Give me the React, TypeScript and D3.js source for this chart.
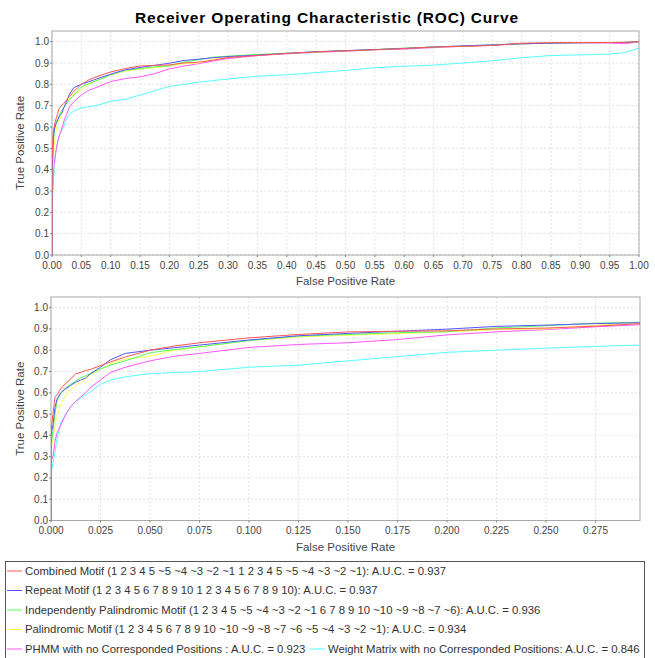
import React from "react";
import * as d3 from "d3";

// ---------- data ----------
const FPR = [0, 0, 0.001, 0.002, 0.003, 0.005, 0.0075, 0.01, 0.0125, 0.015, 0.0175, 0.02, 0.025, 0.03, 0.0375, 0.05, 0.0625, 0.075, 0.1, 0.125, 0.15, 0.175, 0.2, 0.225, 0.25, 0.275, 0.3, 0.35, 0.4, 0.45, 0.5, 0.55, 0.6, 0.65, 0.7, 0.75, 0.8, 0.85, 0.9, 0.95, 0.975, 1.0];

const COMBINED_TPR = [0, 0.42, 0.5, 0.58, 0.59, 0.62, 0.645, 0.665, 0.69, 0.695, 0.705, 0.71, 0.728, 0.745, 0.768, 0.8, 0.82, 0.835, 0.858, 0.874, 0.886, 0.889, 0.891, 0.9, 0.904, 0.913, 0.926, 0.935, 0.945, 0.952, 0.957, 0.962, 0.968, 0.975, 0.978, 0.982, 0.993, 0.995, 0.996, 0.996, 0.997, 1.0];
const REPEAT_TPR = [0, 0.4, 0.45, 0.53, 0.57, 0.6, 0.62, 0.635, 0.65, 0.66, 0.67, 0.69, 0.72, 0.755, 0.785, 0.8, 0.812, 0.824, 0.848, 0.868, 0.879, 0.889, 0.899, 0.912, 0.918, 0.925, 0.93, 0.937, 0.945, 0.953, 0.958, 0.963, 0.968, 0.975, 0.98, 0.985, 0.99, 0.993, 0.995, 0.996, 0.996, 1.0];
const INDEP_PALIN_TPR = [0, 0.35, 0.42, 0.5, 0.56, 0.6, 0.625, 0.64, 0.655, 0.67, 0.68, 0.69, 0.712, 0.73, 0.75, 0.788, 0.803, 0.816, 0.845, 0.866, 0.874, 0.882, 0.887, 0.905, 0.915, 0.927, 0.932, 0.94, 0.946, 0.952, 0.958, 0.963, 0.97, 0.975, 0.98, 0.985, 0.99, 0.993, 0.995, 0.996, 0.997, 1.0];
const PALIN_TPR = [0, 0.33, 0.38, 0.45, 0.49, 0.55, 0.59, 0.615, 0.635, 0.65, 0.665, 0.685, 0.71, 0.735, 0.758, 0.772, 0.8, 0.815, 0.845, 0.862, 0.87, 0.878, 0.886, 0.897, 0.9, 0.918, 0.928, 0.938, 0.945, 0.951, 0.957, 0.962, 0.968, 0.974, 0.979, 0.984, 0.99, 0.993, 0.995, 0.996, 0.997, 1.0];
const PHMM_TPR = [0, 0.28, 0.3, 0.37, 0.41, 0.45, 0.5, 0.535, 0.56, 0.58, 0.6, 0.625, 0.66, 0.695, 0.72, 0.75, 0.772, 0.785, 0.813, 0.827, 0.835, 0.85, 0.872, 0.886, 0.897, 0.91, 0.921, 0.935, 0.943, 0.95, 0.955, 0.962, 0.965, 0.972, 0.978, 0.983, 0.99, 0.993, 0.994, 0.994, 0.99, 1.0];
const WEIGHT_TPR = [0, 0.22, 0.27, 0.32, 0.38, 0.46, 0.5, 0.535, 0.56, 0.575, 0.59, 0.605, 0.64, 0.66, 0.675, 0.69, 0.695, 0.7, 0.72, 0.73, 0.75, 0.77, 0.79, 0.8, 0.81, 0.818, 0.825, 0.838, 0.845, 0.855, 0.865, 0.878, 0.885, 0.89, 0.9, 0.91, 0.925, 0.935, 0.938, 0.942, 0.948, 0.97];

const SERIES_NAMES = [
  "Combined Motif (1 2 3 4 5 ~5 ~4 ~3 ~2 ~1 1 2 3 4 5 ~5 ~4 ~3 ~2 ~1): A.U.C. = 0.937",
  "Repeat Motif (1 2 3 4 5 6 7 8 9 10 1 2 3 4 5 6 7 8 9 10): A.U.C. = 0.937",
  "Independently Palindromic Motif (1 2 3 4 5 ~5 ~4 ~3 ~2 ~1 6 7 8 9 10 ~10 ~9 ~8 ~7 ~6): A.U.C. = 0.936",
  "Palindromic Motif (1 2 3 4 5 6 7 8 9 10 ~10 ~9 ~8 ~7 ~6 ~5 ~4 ~3 ~2 ~1): A.U.C. = 0.934",
  "PHMM with no Corresponded Positions : A.U.C. = 0.923",
  "Weight Matrix with no Corresponded Positions: A.U.C. = 0.846",
];
const SERIES_TPR = [COMBINED_TPR, REPEAT_TPR, INDEP_PALIN_TPR, PALIN_TPR, PHMM_TPR, WEIGHT_TPR];
const COLORS = ["#ff5555", "#5555ff", "#55ff55", "#ffff55", "#ff55ff", "#55ffff"];

const TITLE = "Receiver Operating Characteristic (ROC) Curve";
const X_LABEL = "False Positive Rate";
const Y_LABEL = "True Positive Rate";
const Y_TICKS = [0, 0.1, 0.2, 0.3, 0.4, 0.5, 0.6, 0.7, 0.8, 0.9, 1.0];
const X_TICKS_TOP = [0, 0.05, 0.1, 0.15, 0.2, 0.25, 0.3, 0.35, 0.4, 0.45, 0.5, 0.55, 0.6, 0.65, 0.7, 0.75, 0.8, 0.85, 0.9, 0.95, 1.0];
const X_TICKS_BOTTOM = [0, 0.025, 0.05, 0.075, 0.1, 0.125, 0.15, 0.175, 0.2, 0.225, 0.25, 0.275];

const FONT = "'Liberation Sans', Arial, Helvetica, sans-serif";

type PlotProps = {
  id: string;
  left: number; right: number; top: number; bottom: number;
  xMax: number; xTicks: number[]; xDigits: number;
};

function Plot({ id, left, right, top, bottom, xMax, xTicks, xDigits }: PlotProps) {
  const x = d3.scaleLinear().domain([0, xMax]).range([left, right]);
  const y = d3.scaleLinear().domain([0, 1.05]).range([bottom, top]);
  const line = d3.line<number>().x((_, i) => x(FPR[i])).y((v) => y(v));
  const order = SERIES_TPR.map((_, i) => i).reverse();
  return (
    <g>
      <defs>
        <clipPath id={id}>
          <rect x={left} y={top} width={right - left} height={bottom - top} />
        </clipPath>
      </defs>
      <rect x={left} y={top} width={right - left} height={bottom - top} fill="#ffffff" />
      {xTicks.map((t) => (
        <line key={"gx" + t} x1={x(t)} x2={x(t)} y1={top} y2={bottom} stroke="#d0d0d0" strokeWidth={0.6} strokeDasharray="2,2" />
      ))}
      {Y_TICKS.map((t) => (
        <line key={"gy" + t} x1={left} x2={right} y1={y(t)} y2={y(t)} stroke="#d0d0d0" strokeWidth={0.6} strokeDasharray="2,2" />
      ))}
      <rect x={left} y={top} width={right - left} height={bottom - top} fill="none" stroke="#a8a8a8" strokeWidth={1} />
      <g clipPath={`url(#${id})`}>
        {order.map((i) => (
          <path key={i} d={line(SERIES_TPR[i]) || ""} fill="none" stroke={COLORS[i]} strokeWidth={1} />
        ))}
      </g>
      {Y_TICKS.map((t) => (
        <g key={"ty" + t}>
          <line x1={left - 2} x2={left} y1={y(t)} y2={y(t)} stroke="#808080" />
          <text x={left - 3} y={y(t)} dy="0.35em" textAnchor="end" fontSize={10} fill="#444" fontFamily={FONT}>
            {t.toFixed(1)}
          </text>
        </g>
      ))}
      {xTicks.map((t) => (
        <g key={"tx" + t}>
          <line x1={x(t)} x2={x(t)} y1={bottom} y2={bottom + 2} stroke="#808080" />
          <text x={x(t)} y={bottom + 13.5} textAnchor="middle" fontSize={10} fill="#444" fontFamily={FONT}>
            {t.toFixed(xDigits)}
          </text>
        </g>
      ))}
      <text x={(left + right) / 2} y={bottom + 30} textAnchor="middle" fontSize={11.5} fill="#444" fontFamily={FONT}>
        {X_LABEL}
      </text>
      <text transform={`translate(24,${(top + bottom) / 2}) rotate(-90)`} textAnchor="middle" fontSize={11.5} fill="#444" fontFamily={FONT}>
        {Y_LABEL}
      </text>
    </g>
  );
}

export default function App() {
  const rows = [571, 590.5, 610, 629.5, 649];
  const items = [
    { i: 0, x: 7, row: 0 },
    { i: 1, x: 7, row: 1 },
    { i: 2, x: 7, row: 2 },
    { i: 3, x: 7, row: 3 },
    { i: 4, x: 7, row: 4 },
    { i: 5, x: 310, row: 4 },
  ];
  return (
    <svg width={655} height={658} style={{ position: "absolute", left: 0, top: 0, background: "#fff" }}>
      <rect x={0} y={0} width={655} height={658} fill="#ffffff" />
      <text x={326.5} y={23} textAnchor="middle" fontSize={15.5} fontWeight="bold" fill="#000" fontFamily={FONT}
        textLength={383} lengthAdjust="spacing">
        {TITLE}
      </text>
      <Plot id="clipTop" left={52} right={639} top={31} bottom={255} xMax={1.0} xTicks={X_TICKS_TOP} xDigits={2} />
      <Plot id="clipBottom" left={51} right={640} top={297} bottom={520.5} xMax={0.2975} xTicks={X_TICKS_BOTTOM} xDigits={3} />
      <rect x={5.5} y={561.5} width={639} height={110} fill="#fff" stroke="#555" strokeWidth={1} />
      {items.map((it) => (
        <g key={it.i}>
          <line x1={it.x} x2={it.x + 15} y1={rows[it.row]} y2={rows[it.row]} stroke={COLORS[it.i]} strokeWidth={1} />
          <text x={it.x + 18} y={rows[it.row]} dy="0.35em" fontSize={11.3} fill="#333" fontFamily={FONT}>
            {SERIES_NAMES[it.i]}
          </text>
        </g>
      ))}
    </svg>
  );
}
